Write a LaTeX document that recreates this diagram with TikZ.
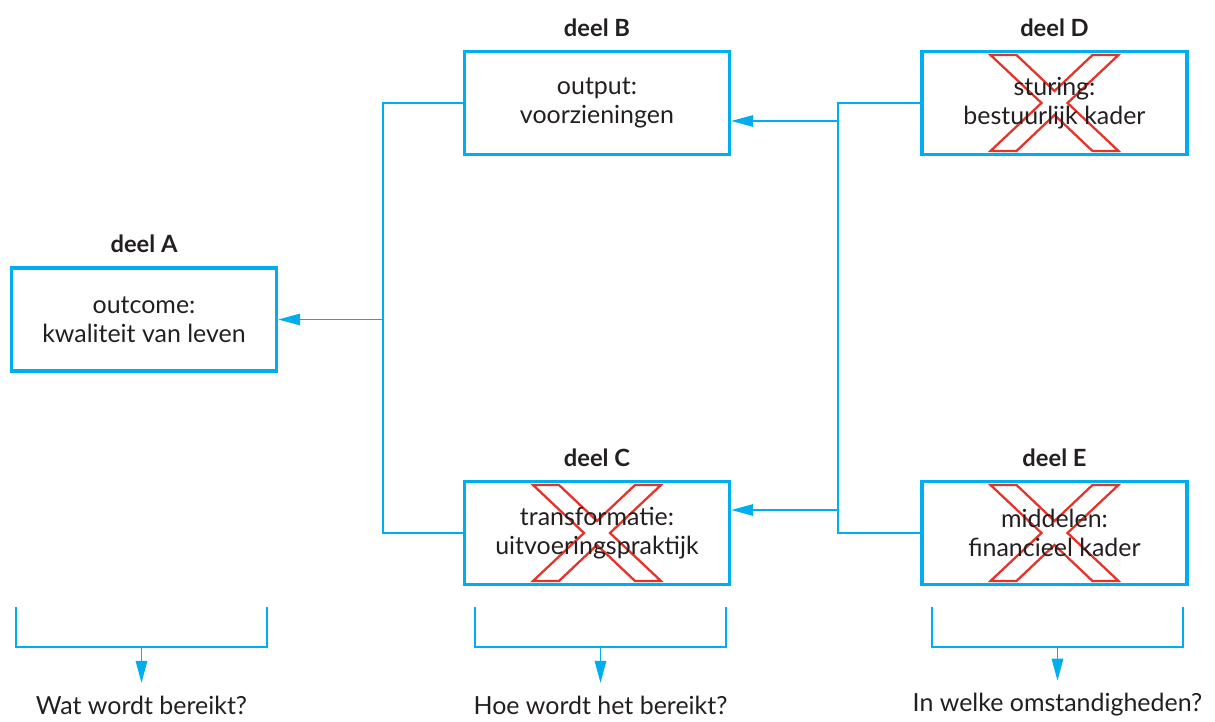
\documentclass[tikz,border=0pt]{standalone}
\usepackage{fontspec}
\setmainfont{Lato}
\usetikzlibrary{arrows.meta,positioning,backgrounds}
\definecolor{lijnblauw}{HTML}{00AEEF}
\definecolor{kruisrood}{HTML}{E63329}
\definecolor{inkt}{HTML}{231F20}
\tikzset{
  deel/.style={rectangle, draw=lijnblauw, line width=2pt, align=center,
               minimum width=5.3cm, minimum height=2.06cm, text=inkt,
               font=\fontsize{14.2}{16.5}\selectfont},
  titel/.style={font=\bfseries\fontsize{13.5}{16}\selectfont, text=inkt, inner sep=0pt},
  vraag/.style={font=\fontsize{14.2}{16}\selectfont, text=inkt, inner sep=0.25cm},
  lijn/.style={draw=lijnblauw, line width=0.85pt},
  pijl/.style={lijn, -{Triangle[length=0.44cm, width=0.23cm]}},
  kruislijn/.style={draw=kruisrood, line width=1.3pt, line join=miter},
  kruis/.pic={\draw[kruislijn] (-64,-48) -- (-38,-48) -- (0,-12) -- (38,-48) -- (64,-48)
      -- (13,0) -- (64,48) -- (38,48) -- (0,12) -- (-38,48) -- (-64,48) -- (-13,0) -- cycle;}
}
\begin{document}
\begin{tikzpicture}[x=0.02cm, y=-0.02cm]
  \useasboundingbox (0,0) rectangle (1215,722);
  \node[deel] (A) at (144,319.5) {outcome:\\kwaliteit van leven};
  \node[deel] (B) at (597,103) {output:\\voorzieningen};
  \node[deel] (D) at (1054.5,103) {sturing:\\bestuurlijk kader};
  \node[deel] (C) at (597,533) {transformatie:\\uitvoeringspraktijk};
  \node[deel] (E) at (1054.5,533) {middelen:\\financieel kader};
  \foreach \n in {A,B,C,D,E} \node[titel, above=0.26cm of \n] (t\n) {deel \n};
  % doorgestreepte delen
  \begin{scope}[on background layer]
    \foreach \n in {C,D,E} \pic at (\n) {kruis};
  \end{scope}
  % verbindingen
  \coordinate (knoopL) at (383,319.5);
  \coordinate (knoopR) at (838,318);
  \coordinate (naarB) at (838,121);
  \coordinate (naarC) at (838,510);
  \draw[lijn] (B.west) -| (knoopL) |- (C.west);
  \draw[pijl] (knoopL) -- (A.east);
  \draw[lijn] (D.west) -| (knoopR) |- (E.west);
  \draw[pijl] (naarB) -- (naarB -| B.east);
  \draw[pijl] (naarC) -- (naarC -| C.east);
  % vragen onder de kolommen
  \foreach \k/\xl/\xr/\tekst in {a/16/267/Wat wordt bereikt?,
      c/475/726/Hoe wordt het bereikt?, e/932/1183/In welke omstandigheden?} {
    \coordinate (bl\k) at (\xl,607);
    \coordinate (br\k) at (\xr,607);
    \coordinate (bm\k) at ({(\xl+\xr)/2},647);
    \node[vraag] (q\k) at ({(\xl+\xr)/2},705) {\tekst};
    \draw[lijn] (bl\k) |- (br\k |- bm\k) -- (br\k);
    \draw[pijl] (bm\k) -- (q\k.north);
  }
\end{tikzpicture}
\end{document}
